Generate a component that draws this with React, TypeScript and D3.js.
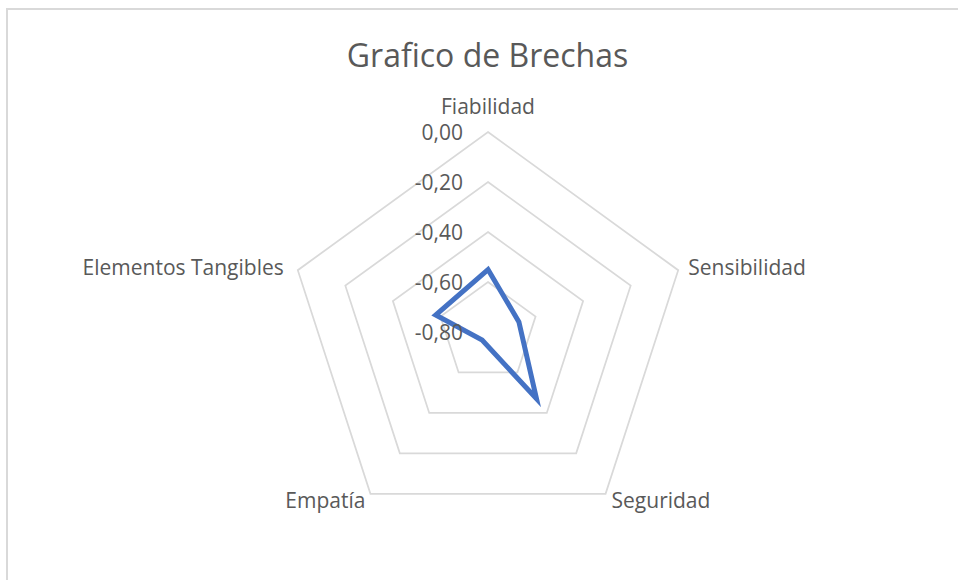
import React, { useEffect, useRef } from "react";
import * as d3 from "d3";

const categories = ["Fiabilidad", "Sensibilidad", "Seguridad", "Empatía", "Elementos Tangibles"];
const values = [-0.55, -0.67, -0.47, -0.76, -0.58];
const ticks = [0, -0.2, -0.4, -0.6, -0.8];
const title = "Grafico de Brechas";

export default function App() {
  const svgRef = useRef<SVGSVGElement>(null);

  useEffect(() => {
    if (!svgRef.current) return;
    const svg = d3.select(svgRef.current);
    svg.selectAll("*").remove();

    const width = 958;
    const height = 580;
    const cx = 488;
    const cy = 332;
    const R = 200;
    const font = "'Open Sans', sans-serif";
    const textColor = "#595959";

    svg.attr("width", width).attr("height", height);

    // chart area border (runs off the right and bottom edges)
    svg
      .append("rect")
      .attr("x", 7)
      .attr("y", 9)
      .attr("width", 1000)
      .attr("height", 700)
      .style("fill", "#fff")
      .style("stroke", "#d9d9d9")
      .style("stroke-width", 2);

    const r = d3.scaleLinear().domain([-0.8, 0]).range([0, R]);
    const angle = d3
      .scaleLinear()
      .domain([0, categories.length])
      .range([0, 2 * Math.PI]);

    const pt = (i: number, v: number): [number, number] => {
      const a = angle(i);
      return [cx + r(v) * Math.sin(a), cy - r(v) * Math.cos(a)];
    };

    // grid pentagons
    const ring = d3.line<[number, number]>().curve(d3.curveLinearClosed);
    ticks.forEach((t) => {
      if (t <= -0.8) return;
      svg
        .append("path")
        .attr("d", ring(categories.map((_, i) => pt(i, t))))
        .style("fill", "none")
        .style("stroke", "#d9d9d9")
        .style("stroke-width", 1.75);
    });

    // data polygon
    svg
      .append("path")
      .attr("d", ring(values.map((v, i) => pt(i, v))))
      .style("fill", "none")
      .style("stroke", "#4472c4")
      .style("stroke-width", 5)
      .style("stroke-linejoin", "miter");

    // tick labels
    ticks.forEach((t) => {
      svg
        .append("text")
        .attr("x", cx - 25)
        .attr("y", cy - r(t) + 8)
        .attr("text-anchor", "end")
        .style("font-family", font)
        .style("font-size", "21px")
        .style("fill", textColor)
        .text(d3.format(".2f")(t).replace(".", ",").replace("−", "-"));
    });

    // category labels
    categories.forEach((c, i) => {
      const a = angle(i);
      const [vx, vy] = pt(i, 0);
      const s = Math.sin(a);
      const co = Math.cos(a);
      let x = vx;
      let y = vy;
      let anchor = "middle";
      if (Math.abs(s) < 0.01) {
        y = vy - 18;
      } else if (co > 0) {
        anchor = s > 0 ? "start" : "end";
        x = vx + (s > 0 ? 10 : -14);
        y = vy + 5;
      } else {
        anchor = s > 0 ? "start" : "end";
        x = vx + (s > 0 ? 6 : -5);
        y = vy + 14;
      }
      svg
        .append("text")
        .attr("x", x)
        .attr("y", y)
        .attr("text-anchor", anchor)
        .style("font-family", font)
        .style("font-size", "21px")
        .style("fill", textColor)
        .text(c);
    });

    // title
    svg
      .append("text")
      .attr("x", 487.5)
      .attr("y", 67)
      .attr("text-anchor", "middle")
      .style("font-family", font)
      .style("font-size", "32px")
      .style("fill", textColor)
      .text(title);
  }, []);

  return <svg ref={svgRef} style={{ position: "absolute", left: 0, top: 0, display: "block" }} />;
}
